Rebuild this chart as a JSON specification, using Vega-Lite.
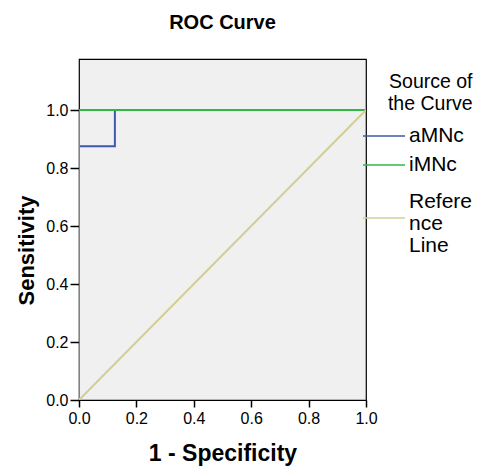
{
  "$schema": "https://vega.github.io/schema/vega-lite/v6.json",
  "autosize": "none",
  "width": 287,
  "height": 341,
  "padding": {"left": 79, "top": 59, "right": 117, "bottom": 70},
  "background": "white",
  "title": {"text": "ROC Curve", "font": "Liberation Sans", "fontSize": 20, "fontWeight": "bold", "color": "black", "offset": 26},
  "config": {
    "view": {"fill": "#F0F0F0", "stroke": "black", "strokeWidth": 1.2},
    "font": "Liberation Sans"
  },
  "data": {"values": [
    {"series": "aMNc", "fpr": 0, "tpr": 0, "ord": 1},
    {"series": "aMNc", "fpr": 0, "tpr": 0.875, "ord": 2},
    {"series": "aMNc", "fpr": 0.125, "tpr": 0.875, "ord": 3},
    {"series": "aMNc", "fpr": 0.125, "tpr": 1, "ord": 4},
    {"series": "aMNc", "fpr": 1, "tpr": 1, "ord": 5},
    {"series": "iMNc", "fpr": 0, "tpr": 0, "ord": 1},
    {"series": "iMNc", "fpr": 0, "tpr": 1, "ord": 2},
    {"series": "iMNc", "fpr": 1, "tpr": 1, "ord": 3},
    {"series": "Reference Line", "fpr": 0, "tpr": 0, "ord": 1},
    {"series": "Reference Line", "fpr": 1, "tpr": 1, "ord": 2}
  ]},
  "mark": {"type": "line", "strokeWidth": 2, "clip": true},
  "encoding": {
    "x": {"field": "fpr", "type": "quantitative", "scale": {"domain": [0, 1], "nice": false},
      "axis": {"title": "1 - Specificity", "values": [0, 0.2, 0.4, 0.6, 0.8, 1], "format": ".1f", "grid": false, "domain": false,
        "tickColor": "black", "tickSize": 7, "tickWidth": 1.5, "labelFontSize": 16, "labelColor": "black", "labelPadding": 3,
        "titleFontSize": 23, "titleFontWeight": "bold", "titleColor": "black", "titlePadding": 16, "labelFlush": false}},
    "y": {"field": "tpr", "type": "quantitative", "scale": {"domain": [0, 1.176], "nice": false},
      "axis": {"title": "Sensitivity", "values": [0, 0.2, 0.4, 0.6, 0.8, 1], "format": ".1f", "grid": false, "domain": false,
        "tickColor": "black", "tickSize": 9, "tickWidth": 1.5, "labelFontSize": 16, "labelColor": "black", "labelPadding": 2,
        "titleFontSize": 22, "titleFontWeight": "bold", "titleColor": "black", "titleX": -46, "titleY": 191, "titleBaseline": "alphabetic", "labelFlush": false}},
    "color": {"field": "series", "type": "nominal",
      "scale": {"domain": ["aMNc", "iMNc", "Reference Line"], "range": ["#3E58AC", "#2EB848", "#D3CE97"]},
      "legend": {"orient": "none", "legendX": 293.5, "legendY": 14,
        "title": ["Source of", "the Curve"], "titleFontSize": 19.5, "titleFontWeight": "normal", "titleColor": "black", "titleLineHeight": 22, "titleAnchor": "end", "titlePadding": 10,
        "labelFontSize": 21, "labelColor": "black", "labelOffset": 13.5, "symbolType": "M-2,0H2", "symbolSize": 441, "symbolStrokeWidth": 1.5, "rowPadding": 7,
        "labelExpr": "datum.label == 'Reference Line' ? ['Refere', 'nce', 'Line'] : datum.label == 'iMNc' ? ['iMNc', ''] : datum.label",
        "encode": {"labels": {"update": {"lineHeight": {"signal": "datum.label == 'iMNc' ? 8 : 22"}, "dy": {"signal": "datum.label == 'Reference Line' ? -16 : 0"}}}}}},
    "order": {"field": "ord", "type": "quantitative"}
  }
}
